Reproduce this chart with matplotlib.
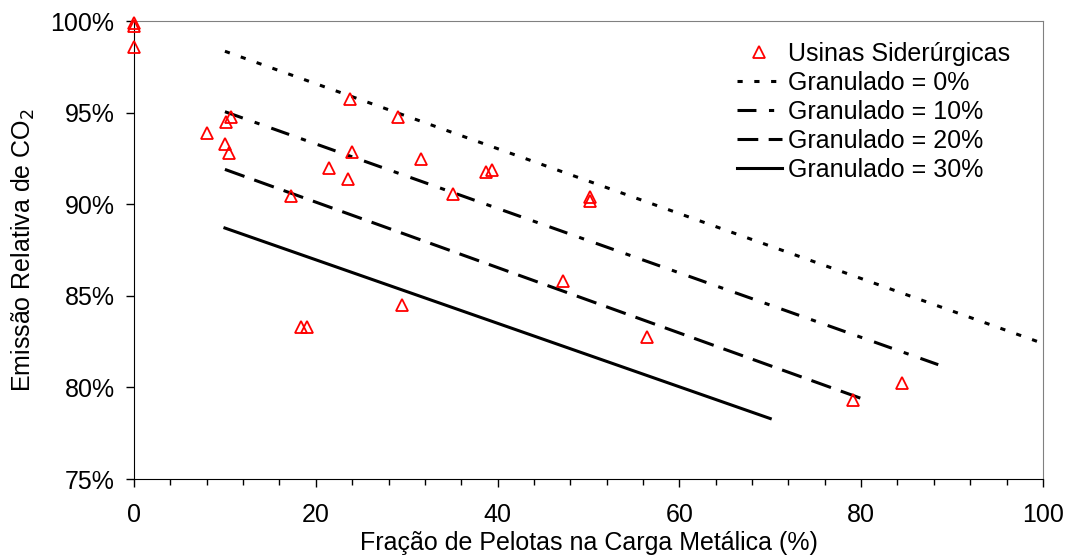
import matplotlib.pyplot as plt
from matplotlib.ticker import MultipleLocator, FuncFormatter

plt.rcParams['font.family'] = ['Liberation Sans', 'DejaVu Sans']

# usinas siderurgicas (fracao de pelotas %, emissao relativa %)
usinas_x = [0, 0, 0, 8.0, 10.1, 10.7, 10.0, 10.4, 17.3, 21.5, 23.5, 24.0, 23.8, 29.0,
            31.6, 35.1, 38.7, 39.4, 50.2, 50.2, 18.4, 19.0, 29.5, 47.2, 56.4, 79.1, 84.5]
usinas_y = [99.9, 99.75, 98.6, 93.9, 94.5, 94.75, 93.3, 92.8, 90.45, 92.0, 91.35, 92.85,
            95.75, 94.75, 92.45, 90.55, 91.75, 91.85, 90.4, 90.15, 83.3, 83.3, 84.5,
            85.8, 82.75, 79.3, 80.25]

# retas de granulado (inicio e fim)
gran_labels = ['Granulado = 0%', 'Granulado = 10%', 'Granulado = 20%', 'Granulado = 30%']
gran_x = [[10, 100], [10, 89], [10, 80], [10, 70]]
gran_y = [[98.35, 82.4], [95.05, 81.15], [91.9, 79.4], [88.7, 78.3]]
gran_dash = [(0, (1.7, 3.8)), (0, (6.2, 4.1, 1.7, 4.1)), (0, (6.8, 3.4)), '-']

fig = plt.figure(figsize=(10.68, 5.59), dpi=100)
ax = fig.add_axes([0.1255, 0.1431, 0.851, 0.8193])

ax.plot(usinas_x, usinas_y, linestyle='none', marker='^', markersize=9,
        markerfacecolor='none', markeredgecolor='red', markeredgewidth=1.3,
        clip_on=False, zorder=5, label='Usinas Siderúrgicas')
for i in range(len(gran_labels)):
    ax.plot(gran_x[i], gran_y[i], color='black', linewidth=2.2,
            linestyle=gran_dash[i], label=gran_labels[i])

ax.set_xlim(0, 100)
ax.set_ylim(75, 100)
ax.xaxis.set_major_locator(MultipleLocator(20))
ax.xaxis.set_minor_locator(MultipleLocator(4))
ax.yaxis.set_major_locator(MultipleLocator(5))
ax.yaxis.set_major_formatter(FuncFormatter(lambda v, p: '%d%%' % v))
ax.tick_params(axis='both', which='major', direction='out', length=6, width=1,
               labelsize=18, pad=8)
ax.tick_params(axis='x', which='major', pad=11)
ax.tick_params(axis='x', which='minor', direction='out', length=4, width=1)

for s in ['top', 'right']:
    ax.spines[s].set_color('#808080')
for s in ['left', 'bottom']:
    ax.spines[s].set_color('black')

ax.set_xlabel('Fração de Pelotas na Carga Metálica (%)', fontsize=18, labelpad=3)
ax.set_ylabel('Emissão Relativa de CO$_2$', fontsize=18, labelpad=10)

ax.legend(loc='upper left', bbox_to_anchor=(0.663, 0.954), frameon=False,
          fontsize=18, handlelength=1.8, handletextpad=0.25, labelspacing=0.2,
          borderpad=0, borderaxespad=0)

fig.savefig('out.png', dpi=100)
